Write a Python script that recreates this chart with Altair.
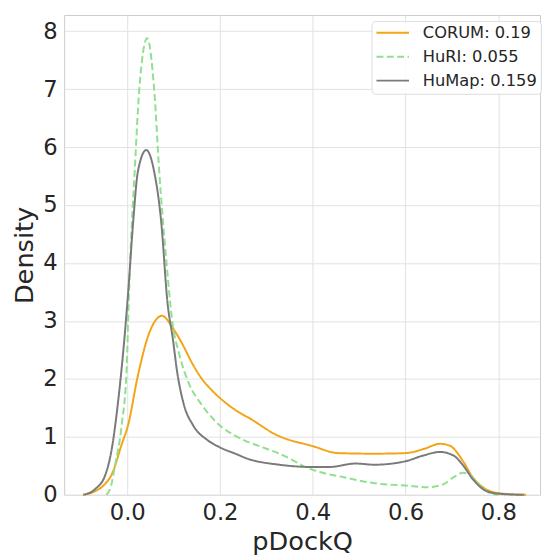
import altair as alt
import pandas as pd

corum_x = [-0.095, -0.07, -0.05, -0.033, -0.012, 0.002, 0.023, 0.045, 0.075, 0.098, 0.119, 0.14, 0.161, 0.183,
           0.2, 0.232, 0.268, 0.32, 0.4, 0.455, 0.533, 0.6, 0.639, 0.674, 0.695, 0.724, 0.745, 0.773, 0.8, 0.86]
corum_y = [0.0, 0.06, 0.17, 0.36, 0.87, 1.21, 2.06, 2.74, 3.09, 2.88, 2.60, 2.27, 2.0, 1.8,
           1.67, 1.47, 1.30, 1.04, 0.84, 0.72, 0.71, 0.72, 0.79, 0.88, 0.85, 0.58, 0.30, 0.10, 0.03, 0.0]

huri_x = [-0.045, -0.035, -0.026, -0.012, -0.001, 0.003, 0.007, 0.016, 0.026, 0.043, 0.058, 0.069, 0.083,
          0.098, 0.112, 0.133, 0.161, 0.19, 0.25, 0.292, 0.328, 0.4, 0.469, 0.533, 0.6, 0.646, 0.681,
          0.703, 0.724, 0.738, 0.759, 0.78, 0.80]
huri_y = [0.0, 0.15, 0.52, 1.2, 2.23, 3.3, 4.16, 5.58, 7.0, 7.88, 7.0, 5.58, 4.16,
          2.94, 2.43, 1.92, 1.55, 1.27, 0.95, 0.82, 0.71, 0.43, 0.30, 0.20, 0.16, 0.13, 0.18,
          0.30, 0.38, 0.35, 0.18, 0.04, 0.0]

humap_x = [-0.095, -0.069, -0.047, -0.033, -0.019, -0.005, 0.002, 0.013, 0.023, 0.041, 0.058, 0.073, 0.087,
           0.098, 0.108, 0.122, 0.142, 0.172, 0.197, 0.236, 0.257, 0.328, 0.4, 0.435, 0.492, 0.533, 0.6, 0.639,
           0.674, 0.703, 0.724, 0.745, 0.773, 0.8, 0.855]
humap_y = [0.0, 0.1, 0.35, 0.81, 1.66, 2.8, 3.5, 4.73, 5.58, 5.95, 5.58, 4.73, 3.3,
           2.71, 2.1, 1.56, 1.2, 0.95, 0.83, 0.70, 0.63, 0.52, 0.48, 0.48, 0.54, 0.52, 0.58, 0.68,
           0.74, 0.68, 0.51, 0.27, 0.07, 0.02, 0.0]

series = ["CORUM: 0.19", "HuRI: 0.055", "HuMap: 0.159"]
colors = ["#f2a516", "#90e090", "#7a7a7a"]
dashes = [[1, 0], [7, 3.5], [1, 0]]

rows = []
for name, xs, ys in zip(series, [corum_x, huri_x, humap_x], [corum_y, huri_y, humap_y]):
    for x, y in zip(xs, ys):
        rows.append({"series": name, "pDockQ": x, "Density": y})
df = pd.DataFrame(rows)

legend = alt.Legend(
    title=None, orient="none", legendX=312, legendY=6,
    symbolType="stroke", symbolSize=1089, symbolStrokeWidth=2, clipHeight=16,
    labelFontSize=16.5, labelFont="DejaVu Sans", labelColor="#262626",
    fillColor="rgba(255,255,255,0.85)", strokeColor="#dddddd", cornerRadius=4,
    padding=4, rowPadding=7.3, labelOffset=13,
)

chart = alt.Chart(df).mark_line(strokeWidth=2, interpolate="monotone").encode(
    x=alt.X("pDockQ:Q", scale=alt.Scale(domain=[-0.136, 0.89], nice=False, zero=False),
            axis=alt.Axis(values=[0.0, 0.2, 0.4, 0.6, 0.8], format=".1f", title="pDockQ")),
    y=alt.Y("Density:Q", scale=alt.Scale(domain=[0, 8.28], nice=False),
            axis=alt.Axis(values=[0, 1, 2, 3, 4, 5, 6, 7, 8], title="Density")),
    color=alt.Color("series:N", scale=alt.Scale(domain=series, range=colors), legend=legend),
    strokeDash=alt.StrokeDash("series:N", scale=alt.Scale(domain=series, range=dashes), legend=legend),
).properties(
    width=483, height=487,
    autosize=alt.AutoSizeParams(type="none"),
    padding={"left": 57, "top": 3, "right": 3, "bottom": 60},
).configure_view(
    stroke="#cccccc", strokeWidth=1,
).configure_axis(
    grid=True, gridColor="#e2e2e2", gridWidth=1, domain=False, ticks=False,
    labelFont="DejaVu Sans", labelFontSize=23, labelColor="#262626",
    titleFont="DejaVu Sans", titleFontSize=26, titleColor="#262626", titleFontWeight="normal",
    labelPadding=7,
).configure_axisY(
    titlePadding=6,
).configure_axisX(
    titlePadding=4,
)

chart.save("out.html", embed_options={"renderer": "svg", "actions": False})
